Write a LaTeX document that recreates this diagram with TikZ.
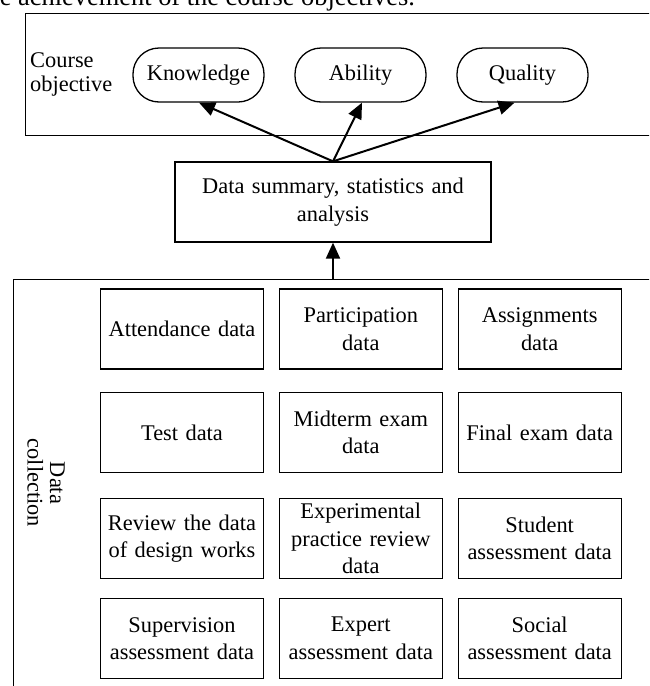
\documentclass[tikz,border=0pt]{standalone}
\usepackage{fontspec}
\setmainfont{Liberation Serif}
\usetikzlibrary{arrows.meta}

\tikzset{
  frame/.style={draw, line width=1.3pt, inner sep=0pt},
  databox/.style={draw, line width=1.3pt, minimum width=163pt, minimum height=80pt,
    text width=160pt, align=center, inner sep=0pt,
    font=\fontsize{22.4}{27.5}\selectfont},
  pill/.style={draw, line width=1.3pt, rounded corners=26pt, minimum width=131pt,
    minimum height=54pt, inner sep=0pt, font=\fontsize{22.4}{27}\selectfont},
  arr/.style={line width=2pt, -{Triangle[length=16pt,width=14pt]}},
}

\begin{document}
\begin{tikzpicture}[x=1pt,y=-1pt]
  \useasboundingbox (0,0) rectangle (649,686);
  \clip (0,0) rectangle (649,686);

  % running text line above the figure
  \node[anchor=base east, inner sep=0pt, font=\fontsize{26.4}{30}\selectfont]
    (caption) at (415,5) {the achievement of the course objectives.};

  % course objective frame
  \node[frame, anchor=north west, minimum width=700pt, minimum height=122pt]
    (obj) at (25,13) {};
  \node[anchor=west, align=left, inner sep=0pt, font=\fontsize{22.4}{23.5}\selectfont]
    (objlabel) at (30,74.5) {Course\\objective};
  \node[pill] (know) at (198.5,75) {Knowledge};
  \node[pill] (abil) at (360.5,75) {Ability};
  \node[pill] (qual) at (522.5,75) {Quality};

  % summary box
  \node[frame, minimum width=316pt, minimum height=80pt, text width=310pt, align=center,
    font=\fontsize{22.4}{27.5}\selectfont]
    (sum) at (333,202) {Data summary, statistics and\\analysis};

  % data collection frame
  \node[frame, anchor=north west, minimum width=700pt, minimum height=450pt]
    (dc) at (13,279) {};
  \node[rotate=-90, align=center, inner sep=0pt, font=\fontsize{22.4}{22.5}\selectfont]
    (dclabel) at (46,483) {Data\\collection};

  % data grid
  \node[databox] (a1) at (182,329) {Attendance data};
  \node[databox] (a2) at (360.8,329) {Participation\\data};
  \node[databox] (a3) at (539.7,329) {Assignments\\data};
  \node[databox] (b1) at (182,432.5) {Test data};
  \node[databox] (b2) at (360.8,432.5) {Midterm exam\\data};
  \node[databox] (b3) at (539.7,432.5) {Final exam data};
  \node[databox] (c1) at (182,538.5) {Review the data\\of design works};
  \node[databox] (c2) at (360.8,538.5) {Experimental\\practice review\\data};
  \node[databox] (c3) at (539.7,538.5) {Student\\assessment data};
  \node[databox] (d1) at (182,638.5) {Supervision\\assessment data};
  \node[databox] (d2) at (360.8,638.5) {Expert\\assessment data};
  \node[databox] (d3) at (539.7,638.5) {Social\\assessment data};

  % connectors
  \draw[arr] (dc.north -| sum.south) -- (sum.south);
  \draw[arr] (sum.north) -- ([xshift=0.5pt]know.south);
  \draw[arr] (sum.north) -- ([xshift=1.5pt]abil.south);
  \draw[arr] (sum.north) -- ([xshift=-8pt]qual.south);
\end{tikzpicture}
\end{document}
